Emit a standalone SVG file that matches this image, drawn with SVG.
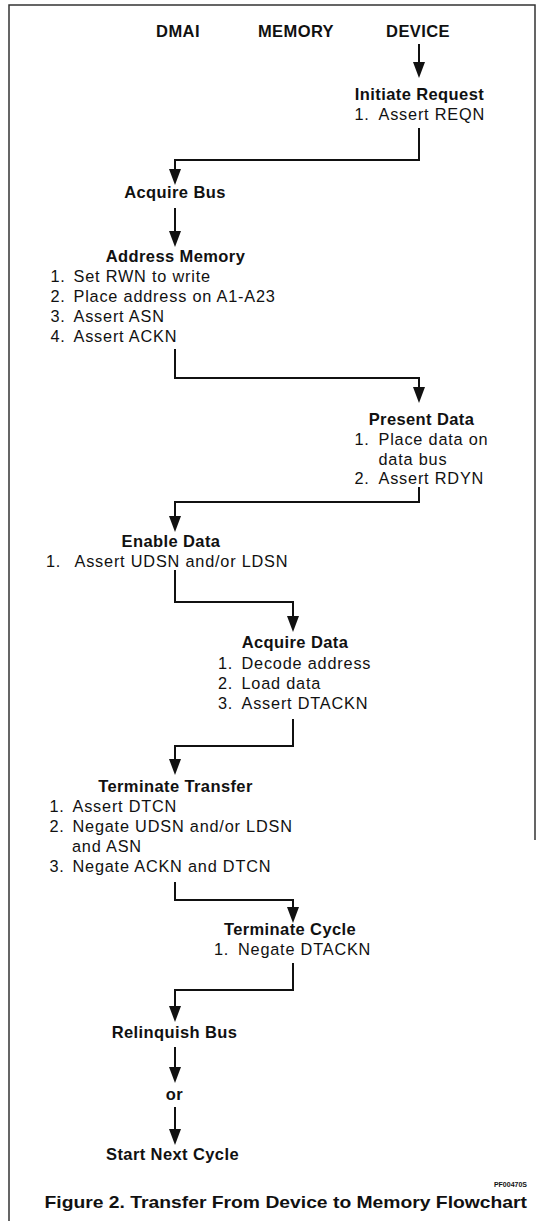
<svg xmlns="http://www.w3.org/2000/svg" width="537" height="1221" viewBox="0 0 537 1221">
<style>
text{font-family:"Liberation Sans",Arial,Helvetica,sans-serif;fill:#111}
.h{font-size:16.5px;font-weight:bold;text-anchor:middle;letter-spacing:0.4px}
.t{font-size:16.3px;letter-spacing:0.8px}
.c{fill:none;stroke:#111;stroke-width:2}
.frame{fill:none;stroke:#333;stroke-width:1.5}
.small{font-size:7px;font-weight:bold;text-anchor:end}
.cap{font-size:17px;font-weight:bold}
</style>
<defs>
<marker id="ah" markerUnits="userSpaceOnUse" viewBox="0 0 16 12" refX="12" refY="6" markerWidth="16" markerHeight="12" orient="auto">
<path d="M0,0 L16,6 L0,12 z" fill="#111"/>
</marker>
</defs>
<rect width="537" height="1221" fill="#fff"/>
<path class="frame" d="M9,1221 V5 H535 V840"/>

<g id="headers">
<text class="h" x="178" y="37">DMAI</text>
<text class="h" x="296" y="37">MEMORY</text>
<text class="h" x="418" y="37">DEVICE</text>
</g>

<g id="connectors">
<path class="c" d="M419,44 V74" marker-end="url(#ah)"/>
<path class="c" d="M419,128 V160 H175 V181" marker-end="url(#ah)"/>
<path class="c" d="M175,208 V243" marker-end="url(#ah)"/>
<path class="c" d="M175,349 V378 H419 V399" marker-end="url(#ah)"/>
<path class="c" d="M419,487 V502 H175 V528" marker-end="url(#ah)"/>
<path class="c" d="M175,570 V602 H293 V628" marker-end="url(#ah)"/>
<path class="c" d="M293,719 V746 H175 V771" marker-end="url(#ah)"/>
<path class="c" d="M175,882 V900 H293 V919" marker-end="url(#ah)"/>
<path class="c" d="M293,963 V990 H175 V1018" marker-end="url(#ah)"/>
<path class="c" d="M175,1047 V1079" marker-end="url(#ah)"/>
<path class="c" d="M175,1107 V1141" marker-end="url(#ah)"/>
</g>

<g id="initiate-request">
<text class="h" x="419.5" y="100">Initiate Request</text>
<text class="t" y="119.5"><tspan x="354.5">1.</tspan><tspan x="378.5">Assert REQN</tspan></text>
</g>

<g id="acquire-bus">
<text class="h" x="175" y="198">Acquire Bus</text>
</g>

<g id="address-memory">
<text class="h" x="175.5" y="262">Address Memory</text>
<text class="t" y="282"><tspan x="50.5">1.</tspan><tspan x="73.5">Set RWN to write</tspan></text>
<text class="t" y="302"><tspan x="50.5">2.</tspan><tspan x="73.5">Place address on A1-A23</tspan></text>
<text class="t" y="322"><tspan x="50.5">3.</tspan><tspan x="73.5">Assert ASN</tspan></text>
<text class="t" y="342"><tspan x="50.5">4.</tspan><tspan x="73.5">Assert ACKN</tspan></text>
</g>

<g id="present-data">
<text class="h" x="421.5" y="425">Present Data</text>
<text class="t" y="445"><tspan x="354.5">1.</tspan><tspan x="378.5">Place data on</tspan></text>
<text class="t" y="465"><tspan x="378.5">data bus</tspan></text>
<text class="t" y="484"><tspan x="354.5">2.</tspan><tspan x="378.5">Assert RDYN</tspan></text>
</g>

<g id="enable-data">
<text class="h" x="171" y="547">Enable Data</text>
<text class="t" y="567"><tspan x="46">1.</tspan><tspan x="74.5">Assert UDSN and/or LDSN</tspan></text>
</g>

<g id="acquire-data">
<text class="h" x="295" y="648">Acquire Data</text>
<text class="t" y="669"><tspan x="218">1.</tspan><tspan x="241.5">Decode address</tspan></text>
<text class="t" y="689"><tspan x="218">2.</tspan><tspan x="241.5">Load data</tspan></text>
<text class="t" y="709"><tspan x="218">3.</tspan><tspan x="241.5">Assert DTACKN</tspan></text>
</g>

<g id="terminate-transfer">
<text class="h" x="175.5" y="792">Terminate Transfer</text>
<text class="t" y="812"><tspan x="49.5">1.</tspan><tspan x="72.5">Assert DTCN</tspan></text>
<text class="t" y="832"><tspan x="49.5">2.</tspan><tspan x="72.5">Negate UDSN and/or LDSN</tspan></text>
<text class="t" y="852"><tspan x="72">and ASN</tspan></text>
<text class="t" y="872"><tspan x="49.5">3.</tspan><tspan x="72.5">Negate ACKN and DTCN</tspan></text>
</g>

<g id="terminate-cycle">
<text class="h" x="290" y="935">Terminate Cycle</text>
<text class="t" y="955"><tspan x="214">1.</tspan><tspan x="238">Negate DTACKN</tspan></text>
</g>

<g id="relinquish-bus">
<text class="h" x="174.5" y="1038">Relinquish Bus</text>
</g>

<g id="or">
<text class="h" x="174.5" y="1100">or</text>
</g>

<g id="start-next-cycle">
<text class="h" x="172.5" y="1160">Start Next Cycle</text>
</g>

<g id="caption">
<text class="small" x="527" y="1187">PF00470S</text>
<text class="cap" x="44.5" y="1208" textLength="482.5" lengthAdjust="spacingAndGlyphs">Figure 2. Transfer From Device to Memory Flowchart</text>
</g>
</svg>
